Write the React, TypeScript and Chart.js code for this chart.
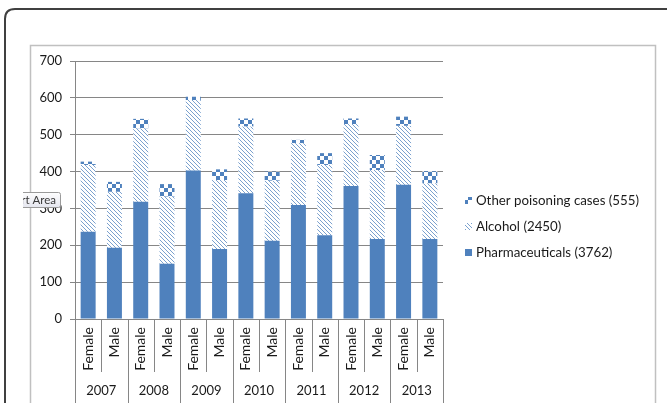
import React, { useEffect, useRef } from "react";
import { Chart, registerables } from "chart.js";

Chart.register(...registerables);

const categories = [
  "Female", "Male", "Female", "Male", "Female", "Male", "Female",
  "Male", "Female", "Male", "Female", "Male", "Female", "Male",
];
const years = ["2007", "2008", "2009", "2010", "2011", "2012", "2013"];
const pharmaceuticals = [237, 193, 318, 150, 403, 190, 341, 212, 309, 227, 361, 217, 364, 217];
const alcohol = [181, 152, 199, 182, 191, 187, 181, 163, 168, 191, 168, 187, 160, 151];
const otherCases = [9, 27, 26, 34, 9, 29, 22, 25, 9, 32, 15, 41, 25, 33];
const legendLabels = ["Other poisoning cases (555)", "Alcohol (2450)", "Pharmaceuticals (3762)"];
const yMax = 700;
const yStep = 100;

const BLUE = "#4F81BD";
const FONT = "Lato, 'Liberation Sans', sans-serif";

function makeDiagonal(): CanvasPattern | string {
  const c = document.createElement("canvas");
  c.width = 4;
  c.height = 4;
  const g = c.getContext("2d");
  if (!g) return BLUE;
  g.fillStyle = "#ffffff";
  g.fillRect(0, 0, 4, 4);
  g.fillStyle = "rgba(79,129,189,0.75)";
  for (let i = 0; i < 4; i++) g.fillRect(i, i, 1, 1);
  return g.createPattern(c, "repeat") || BLUE;
}

function makeChecker(): CanvasPattern | string {
  const c = document.createElement("canvas");
  c.width = 8;
  c.height = 8;
  const g = c.getContext("2d");
  if (!g) return BLUE;
  g.fillStyle = "#ffffff";
  g.fillRect(0, 0, 8, 8);
  g.fillStyle = BLUE;
  g.fillRect(0, 0, 4, 4);
  g.fillRect(4, 4, 4, 4);
  return g.createPattern(c, "repeat") || BLUE;
}

function roundRectPath(ctx: CanvasRenderingContext2D, x: number, y: number, w: number, h: number, r: number) {
  ctx.beginPath();
  ctx.moveTo(x + r, y);
  ctx.lineTo(x + w - r, y);
  ctx.quadraticCurveTo(x + w, y, x + w, y + r);
  ctx.lineTo(x + w, y + h - r);
  ctx.quadraticCurveTo(x + w, y + h, x + w - r, y + h);
  ctx.lineTo(x + r, y + h);
  ctx.quadraticCurveTo(x, y + h, x, y + h - r);
  ctx.lineTo(x, y + r);
  ctx.quadraticCurveTo(x, y, x + r, y);
  ctx.closePath();
}

const decoPlugin = {
  id: "deco",
  beforeDraw(chart: any) {
    const ctx: CanvasRenderingContext2D = chart.ctx;
    ctx.save();
    ctx.fillStyle = "#ffffff";
    ctx.fillRect(0, 0, chart.width, chart.height);
    // outer chart frame
    ctx.strokeStyle = "#404040";
    ctx.lineWidth = 2;
    roundRectPath(ctx, 5, 9, 720, 460, 10);
    ctx.stroke();
    // inner plot box
    ctx.strokeStyle = "#c0c0c0";
    ctx.lineWidth = 1.5;
    ctx.strokeRect(30.5, 45.5, 625, 420);
    ctx.restore();
  },
  afterDraw(chart: any) {
    const ctx: CanvasRenderingContext2D = chart.ctx;
    const xs = chart.scales.x;
    const ys = chart.scales.y;
    const y0 = ys.getPixelForValue(0);
    const n = categories.length;
    const step = xs.getPixelForValue(1) - xs.getPixelForValue(0);
    ctx.save();
    // category separators
    ctx.strokeStyle = "#868686";
    ctx.lineWidth = 1;
    for (let i = 0; i <= n; i++) {
      const base = i < n ? xs.getPixelForValue(i) - step / 2 : xs.getPixelForValue(n - 1) + step / 2;
      const px = Math.round(base) + 0.5;
      const yearEdge = i % 2 === 0;
      ctx.beginPath();
      ctx.moveTo(px, y0);
      ctx.lineTo(px, yearEdge ? 403 : 372);
      ctx.stroke();
    }
    // sex labels
    ctx.fillStyle = "#1a1a1a";
    ctx.font = `14px ${FONT}`;
    for (let i = 0; i < n; i++) {
      ctx.save();
      ctx.translate(xs.getPixelForValue(i), y0 + 8);
      ctx.rotate(-Math.PI / 2);
      ctx.textAlign = "right";
      ctx.textBaseline = "middle";
      ctx.fillText(categories[i], 0, 0);
      ctx.restore();
    }
    // year labels
    ctx.font = `13px ${FONT}`;
    ctx.textAlign = "center";
    ctx.textBaseline = "middle";
    for (let j = 0; j < years.length; j++) {
      const cx = (xs.getPixelForValue(2 * j) + xs.getPixelForValue(2 * j + 1)) / 2;
      ctx.fillText(years[j], cx, 391);
    }
    // legend (reverse order)
    const ds = chart.data.datasets;
    const order = [2, 1, 0];
    const rowsY = [200, 226, 252];
    ctx.font = `13.3px ${FONT}`;
    ctx.textAlign = "left";
    for (let k = 0; k < 3; k++) {
      const d = ds[order[k]];
      ctx.fillStyle = d.backgroundColor;
      ctx.fillRect(465, rowsY[k] - 3, 7, 7);
      ctx.fillStyle = "#1a1a1a";
      ctx.fillText(legendLabels[k], 476, rowsY[k] + 1);
    }
    // Excel tooltip remnant ("Chart Area", clipped)
    ctx.save();
    ctx.beginPath();
    ctx.rect(23, 0, 667, 403);
    ctx.clip();
    const grad = ctx.createLinearGradient(0, 192, 0, 208);
    grad.addColorStop(0, "#ffffff");
    grad.addColorStop(1, "#e4e5ee");
    ctx.fillStyle = grad;
    roundRectPath(ctx, 5.5, 192.5, 55, 15, 2);
    ctx.fill();
    ctx.strokeStyle = "#9a9a9a";
    ctx.lineWidth = 1;
    ctx.stroke();
    ctx.fillStyle = "#3a3a3a";
    ctx.font = `11.5px ${FONT}`;
    ctx.textAlign = "right";
    ctx.textBaseline = "middle";
    ctx.fillText("Chart Area", 56, 200.5);
    ctx.restore();
    ctx.restore();
  },
};

export default function App() {
  const ref = useRef<HTMLCanvasElement | null>(null);
  useEffect(() => {
    if (!ref.current) return;
    const diag = makeDiagonal();
    const check = makeChecker();
    const chart = new Chart(ref.current, {
      type: "bar",
      data: {
        labels: categories,
        datasets: [
          { label: legendLabels[2], data: pharmaceuticals, backgroundColor: BLUE, borderWidth: 0 },
          { label: legendLabels[1], data: alcohol, backgroundColor: diag as any, borderWidth: 0 },
          { label: legendLabels[0], data: otherCases, backgroundColor: check as any, borderWidth: 0 },
        ],
      },
      options: {
        animation: false,
        responsive: false,
        maintainAspectRatio: false,
        devicePixelRatio: 1,
        layout: { padding: { left: 0, top: 61, right: 224, bottom: 0 } },
        datasets: { bar: { barPercentage: 0.57, categoryPercentage: 1 } },
        plugins: { legend: { display: false }, tooltip: { enabled: false } },
        scales: {
          x: {
            stacked: true,
            grid: { display: false },
            border: { display: true, color: "#868686" },
            ticks: { display: false },
            afterFit: (s: any) => { s.height = 84; },
          },
          y: {
            stacked: true,
            min: 0,
            max: yMax,
            grid: { color: "#868686", tickLength: 5, drawTicks: true },
            border: { display: true, color: "#868686" },
            ticks: {
              stepSize: yStep,
              padding: 8,
              color: "#1a1a1a",
              font: { family: FONT, size: 13 },
            },
            afterFit: (s: any) => { s.width = 75; },
          },
        },
      },
      plugins: [decoPlugin],
    });
    return () => chart.destroy();
  }, []);
  return (
    <div style={{ position: "fixed", left: 0, top: 0, width: 667, height: 403, background: "#fff" }}>
      <canvas ref={ref} width={667} height={403} style={{ display: "block", width: 667, height: 403 }} />
    </div>
  );
}
